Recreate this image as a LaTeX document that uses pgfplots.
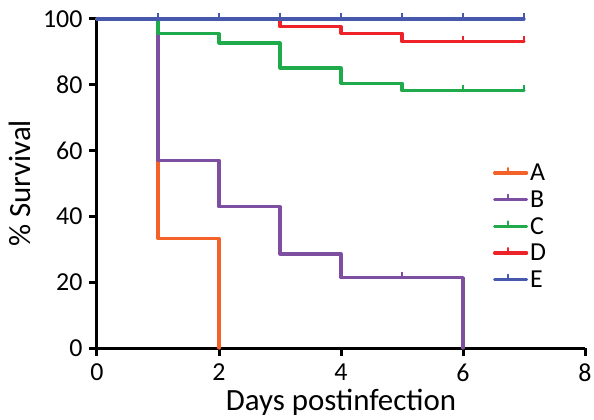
\documentclass[border=0pt]{standalone}
\usepackage{pgfplots}
\pgfplotsset{compat=1.18}
\usepackage{fontspec}
\setmainfont{Carlito}
\definecolor{cA}{HTML}{F4622A}
\definecolor{cB}{HTML}{7E4FA0}
\definecolor{cC}{HTML}{1FAA4B}
\definecolor{cD}{HTML}{EE2229}
\definecolor{cE}{HTML}{4659AC}
\pgfplotsset{km/.style={line width=3.2bp, const plot, line join=round, line cap=round},
  cens/.style={only marks, forget plot, mark=|, mark size=3bp, mark options={yshift=3bp, line width=2.4bp}}}
\begin{document}
\begin{tikzpicture}
\begin{axis}[name=ax,
  scale only axis, width=488bp, height=329bp,
  xmin=0, xmax=8, ymin=0, ymax=100,
  axis lines=left, axis line style={line width=3bp, black, -},
  xtick={0,2,4,6,8}, ytick={0,20,40,60,80,100},
  tick style={line width=3bp, black},
  major tick length=8bp, tick align=outside,
  /pgf/number format/assume math mode=true,
  ticklabel style={font=\fontsize{26}{30}\selectfont},
  xticklabel style={yshift=-4bp},
  yticklabel style={xshift=-3bp},
  xlabel={Days postinfection}, ylabel={\% Survival},
  label style={font=\fontsize{31}{36}\selectfont},
  xlabel style={yshift=-1bp},
  ylabel style={yshift=5bp},
  clip=false,
  legend style={draw=none, fill=none, at={(rel axis cs:0.805,0.572)}, anchor=north west,
    font=\fontsize{26}{30}\selectfont, row sep=4.5bp},
  legend cell align=left,
  legend image code/.code={\draw[#1,line width=2.2bp] (0bp,0bp) -- (26bp,0bp); \draw[#1,line width=2.2bp] (13bp,0bp) -- (13bp,5bp); \path (0bp,0bp) -- (32bp,0bp);},
]
\addplot[cA, km] coordinates {(0,100) (1,33.3) (2,0)};
\addlegendentry{A}
\addplot[cB, km] coordinates {(0,100) (1,57.1) (2,42.9) (3,28.6) (4,21.4) (6,0)};
\addlegendentry{B}
\addplot[cC, km] coordinates {(0,100) (1,95.5) (2,92.7) (3,85.1) (4,80.5) (5,78.2) (7,78.2)};
\addlegendentry{C}
\addplot[cD, km] coordinates {(0,100) (3,97.6) (4,95.7) (5,93.1) (7,93.1)};
\addlegendentry{D}
\addplot[cE, km] coordinates {(0,100) (7,100)};
\addlegendentry{E}
\addplot[cB, cens] coordinates {(5,21.4)};
\addplot[cC, cens] coordinates {(6,78.2) (7,78.2)};
\addplot[cD, cens] coordinates {(6,93.1) (7,93.1)};
\addplot[cE, cens] coordinates {(1,100) (2,100) (3,100) (4,100) (5,100) (6,100) (7,100)};
\end{axis}
\pgfresetboundingbox
\path ([xshift=-97bp,yshift=-71bp]ax.south west) rectangle ([xshift=9bp,yshift=19bp]ax.north east);
\end{tikzpicture}
\end{document}
